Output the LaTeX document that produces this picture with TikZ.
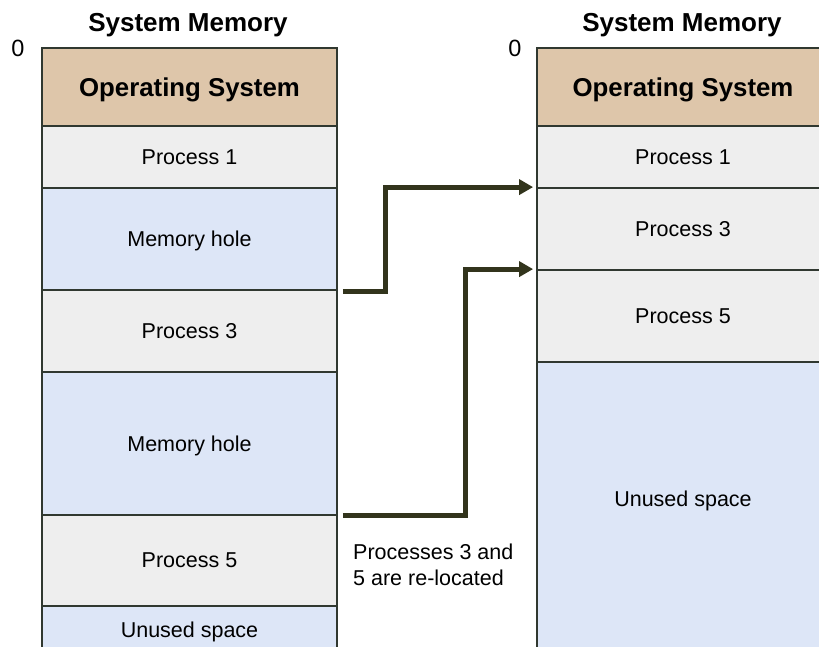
\documentclass[tikz,border=0pt]{standalone}
\usepackage{fontspec}
\setmainfont{Liberation Sans}
\usetikzlibrary{arrows.meta}
\definecolor{ostan}{RGB}{222,198,170}
\definecolor{procgray}{RGB}{238,238,238}
\definecolor{holeblue}{RGB}{221,230,247}
\definecolor{edgec}{RGB}{48,56,48}
\definecolor{arrc}{RGB}{50,52,28}
\tikzset{
  cell/.style={draw=edgec, line width=1.8pt, inner sep=0pt, rectangle, text depth=0pt,
    font=\fontsize{21.5}{26}\selectfont},
  lcol/.style={cell, minimum width=295pt},
  rcol/.style={cell, minimum width=292pt},
  oscell/.style={fill=ostan, font=\fontsize{25.8}{30}\selectfont\bfseries},
  proc/.style={fill=procgray},
  hole/.style={fill=holeblue},
  title/.style={font=\fontsize{26}{30}\selectfont\bfseries, anchor=base, inner sep=0pt},
  zero/.style={font=\fontsize{23.5}{28}\selectfont, inner sep=0pt, text depth=0pt},
  plain/.style={font=\fontsize{21.5}{26}\selectfont, inner sep=0pt},
  arr/.style={draw=arrc, line width=5pt, -{Triangle[length=14pt,width=15pt]}}
}
\begin{document}
\begin{tikzpicture}[x=1pt,y=-1pt]
\useasboundingbox (0,0) rectangle (819,647);
\clip (0,0) rectangle (819,647);
% left column
\node[lcol, oscell, minimum height=78pt] (los) at (189.5,87) {Operating System};
\node[lcol, proc, minimum height=62pt] (l1) at (189.5,157) {Process 1};
\node[lcol, hole, minimum height=102pt] (lh1) at (189.5,239) {Memory hole};
\node[lcol, proc, minimum height=82pt] (l3) at (189.5,331) {Process 3};
\node[lcol, hole, minimum height=143pt] (lh2) at (189.5,443.5) {Memory hole};
\node[lcol, proc, minimum height=91pt] (l5) at (189.5,560.5) {Process 5};
\node[lcol, hole, minimum height=48pt] (lu) at (189.5,630) {Unused space};
% right column
\node[rcol, oscell, minimum height=78pt] (ros) at (683,87) {Operating System};
\node[rcol, proc, minimum height=62pt] (r1) at (683,157) {Process 1};
\node[rcol, proc, minimum height=82pt] (r3) at (683,229) {Process 3};
\node[rcol, proc, minimum height=92pt] (r5) at (683,316) {Process 5};
\node[rcol, hole, minimum height=300pt] (ru) at (683,512) {};
\node[plain, text depth=0pt] (rut) at (683,499) {Unused space};
% titles
\node[title] (lt) at (188,32) {System Memory};
\node[title] (rt) at (682,32) {System Memory};
\node[zero] (lz) at (18,48) {0};
\node[zero] (rz) at (515,48) {0};
% note
\node[plain, anchor=north west, align=left] (note) at (353,544) {Processes 3 and\\5 are re-located};
% arrows
\draw[arr] ([xshift=5pt,yshift=-2pt]l3.north east) -- ++(43,0) |- ([xshift=-3pt]r3.north west);
\draw[arr] ([xshift=5pt,yshift=-1pt]l5.north east) -- ++(123,0) |- ([xshift=-3pt]r5.north west);
\end{tikzpicture}
\end{document}
